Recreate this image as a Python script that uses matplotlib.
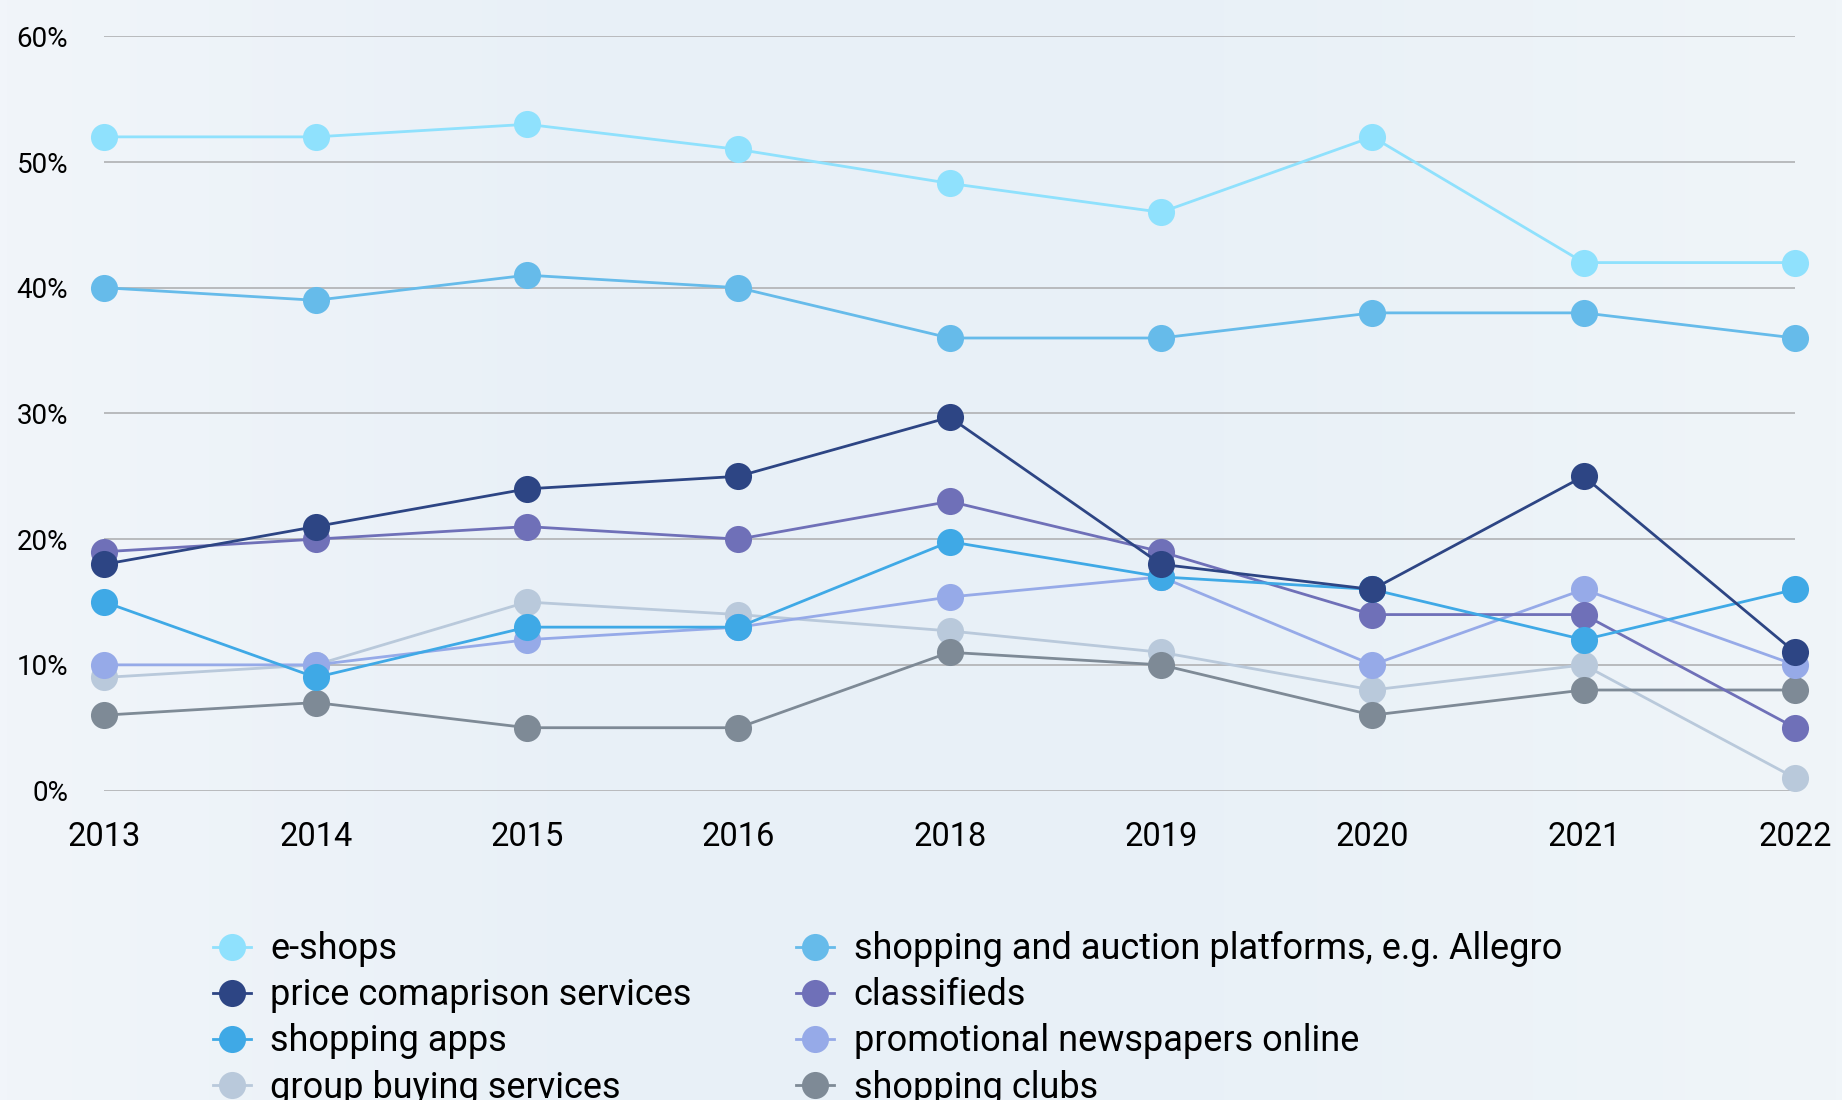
import numpy as np
import matplotlib
matplotlib.use("Agg")
import matplotlib.pyplot as plt
from matplotlib.colors import LinearSegmentedColormap

# survey years (2017 missing, so years are placed as categories)
years = ['2013', '2014', '2015', '2016', '2018', '2019', '2020', '2021', '2022']

e_shops = [52, 52, 53, 51, 48.3, 46, 52, 42, 42]
platforms = [40, 39, 41, 40, 36, 36, 38, 38, 36]
price_comparison = [18, 21, 24, 25, 29.7, 18, 16, 25, 11]
classifieds = [19, 20, 21, 20, 23, 19, 14, 14, 5]
shopping_apps = [15, 9, 13, 13, 19.8, 17, 16, 12, 16]
promo_newspapers = [10, 10, 12, 13, 15.4, 17, 10, 16, 10]
group_buying = [9, 10, 15, 14, 12.7, 11, 8, 10, 1]
shopping_clubs = [6, 7, 5, 5, 11, 10, 6, 8, 8]

yticks = [0, 10, 20, 30, 40, 50, 60]

# label, values, colour, zorder
series = [
    ('e-shops', e_shops, '#8fe1fd', 3),
    ('price comaprison services', price_comparison, '#2d4584', 9),
    ('shopping apps', shopping_apps, '#3fa9e6', 8),
    ('group buying services', group_buying, '#b9c9db', 4),
    ('shopping and auction platforms, e.g. Allegro', platforms, '#66bbea', 3),
    ('classifieds', classifieds, '#6f70b8', 7),
    ('promotional newspapers online', promo_newspapers, '#96aae8', 6),
    ('shopping clubs', shopping_clubs, '#7e8a96', 5),
]

plt.rcParams['font.family'] = ['Roboto', 'DejaVu Sans']

fig = plt.figure(figsize=(18.42, 11), dpi=100)

# soft background gradient
bg = fig.add_axes([0, 0, 1, 1], zorder=-10)
grad = np.linspace(0, 1, 256).reshape(1, -1)
cmap = LinearSegmentedColormap.from_list('bg', ['#f1f5fa', '#e8f0f7', '#e9f1f7', '#f0f5f9'])
bg.imshow(grad, aspect='auto', cmap=cmap, extent=[0, 1, 0, 1])
bg.axis('off')

ax = fig.add_axes([0.0567, 0.2813, 0.9178, 0.6857])
ax.patch.set_alpha(0)
x = np.arange(len(years))

for label, vals, color, z in series:
    ax.plot(x, vals, color=color, linewidth=2.0, marker='o', markersize=19.5,
            markeredgewidth=0, label=label, zorder=z, clip_on=False)

ax.set_xlim(0, len(years) - 1)
ax.set_ylim(0, 60)
ax.set_xticks(x)
ax.set_xticklabels(years, fontsize=23.5)
ax.set_yticks(yticks)
ax.set_yticklabels([f'{v}%' for v in yticks], fontsize=20)
ax.tick_params(axis='x', length=0, pad=22)
ax.tick_params(axis='y', length=0, pad=26)
ax.grid(axis='y', color='#b8babd', linewidth=1.4)
ax.set_axisbelow(True)
for s in ax.spines.values():
    s.set_visible(False)

handles, labels = ax.get_legend_handles_labels()
fig.legend(handles, labels, ncol=2, loc='upper left',
           bbox_to_anchor=(0.0978, 0.183), frameon=False, fontsize=26,
           handlelength=1.05, handletextpad=0.55, columnspacing=2.88,
           labelspacing=0.28, markerscale=1.0)

fig.savefig('out.png', dpi=100)
